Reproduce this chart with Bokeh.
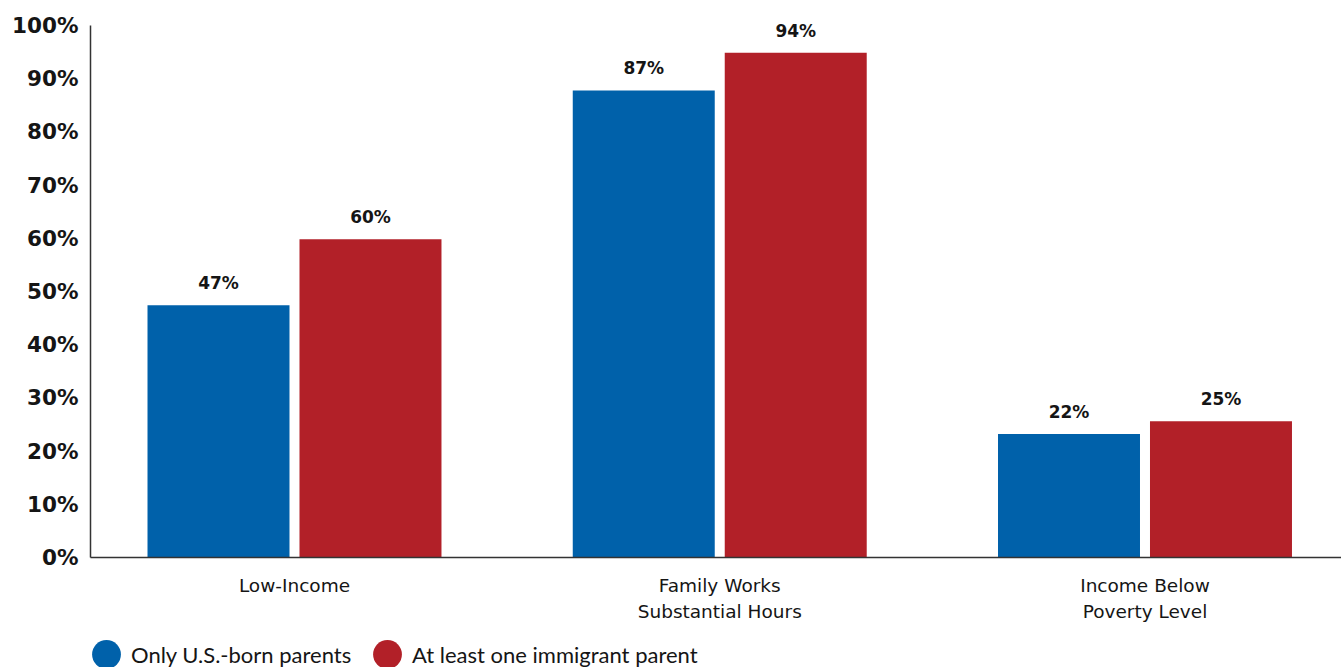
from bokeh.plotting import figure
from bokeh.layouts import column
from bokeh.models import (Range1d, FixedTicker, PrintfTickFormatter, ColumnDataSource,
                          Legend, LegendItem)
from bokeh.transform import dodge
from bokeh.core.properties import value
from bokeh.embed import file_html
from bokeh.resources import INLINE

# ---- data ----
categories = ["Low-Income", "Family Works\nSubstantial Hours", "Income Below\nPoverty Level"]
us_born = [47.4, 87.8, 23.2]
immigrant = [59.8, 94.9, 25.6]
us_born_labels = ["47%", "87%", "22%"]
immigrant_labels = ["60%", "94%", "25%"]
series_names = ["Only U.S.-born parents", "At least one immigrant parent"]
y_ticks = [0, 10, 20, 30, 40, 50, 60, 70, 80, 90, 100]

BLUE = "#0061AA"
RED = "#B22028"
INK = "#151515"

idx = list(range(len(categories)))
src_b = ColumnDataSource(dict(x=idx, v=us_born, t=us_born_labels))
src_r = ColumnDataSource(dict(x=idx, v=immigrant, t=immigrant_labels))

p = figure(width=1341, height=636, output_backend="svg", toolbar_location=None,
           x_range=Range1d(-0.4797, 2.4621), y_range=Range1d(0, 104.699),
           min_border_left=90, min_border_right=0, min_border_top=0, min_border_bottom=79)
p.outline_line_color = None
p.grid.visible = False
p.background_fill_color = "white"

OFF = 0.1787
W = 0.3339
p.vbar(x=dodge("x", -OFF, range=p.x_range), top="v", width=W, source=src_b,
       fill_color=BLUE, line_color=None)
p.vbar(x=dodge("x", OFF, range=p.x_range), top="v", width=W, source=src_r,
       fill_color=RED, line_color=None)

for src, off in ((src_b, -OFF), (src_r, OFF)):
    p.text(x=dodge("x", off, range=p.x_range), y="v", text="t", source=src,
           text_align="center", text_baseline="alphabetic", y_offset=-22,
           text_font=value("DejaVu Sans"), text_font_style="bold",
           text_font_size="17px", text_color=INK)

# axes
xa = p.xaxis[0]
xa.ticker = FixedTicker(ticks=idx)
xa.major_label_overrides = {i: c for i, c in zip(idx, categories)}
xa.major_tick_line_color = None
xa.minor_tick_line_color = None
xa.axis_line_color = "#333333"
xa.axis_line_width = 1.5
xa.major_label_standoff = 11
xa.major_label_text_font = "DejaVu Sans"
xa.major_label_text_font_size = "18.5px"
xa.major_label_text_color = INK
xa.major_label_text_line_height = 1.25

ya = p.yaxis[0]
ya.ticker = FixedTicker(ticks=y_ticks)
ya.formatter = PrintfTickFormatter(format="%d%%")
ya.bounds = (0, 100)
ya.major_tick_line_color = None
ya.minor_tick_line_color = None
ya.axis_line_color = "#333333"
ya.axis_line_width = 1.5
ya.major_label_standoff = 6
ya.major_label_text_font = "DejaVu Sans"
ya.major_label_text_font_style = "bold"
ya.major_label_text_font_size = "21.5px"
ya.major_label_text_color = INK

# legend strip below the chart (the series glyphs sit outside its ranges, only the legend shows)
lf = figure(width=1341, height=31, output_backend="svg", toolbar_location=None,
            x_range=Range1d(0, 1), y_range=Range1d(0, 1),
            x_axis_location=None, y_axis_location=None,
            min_border_left=90, min_border_right=0, min_border_top=0, min_border_bottom=0)
lf.outline_line_color = None
lf.grid.visible = False

dot_b = lf.ellipse(x="x", y="v", width=29, height=29, width_units="screen",
                   height_units="screen", source=src_b, fill_color=BLUE, line_color=None)
dot_r = lf.ellipse(x="x", y="v", width=29, height=29, width_units="screen",
                   height_units="screen", source=src_r, fill_color=RED, line_color=None)
for dot, name, loc in ((dot_b, series_names[0], (-2, -5)), (dot_r, series_names[1], (279, -5))):
    lg = Legend(items=[LegendItem(label=name, renderers=[dot])], location=loc,
                orientation="horizontal", glyph_width=36, glyph_height=36,
                label_standoff=7, padding=0, margin=0, spacing=0,
                border_line_color=None, background_fill_alpha=0,
                label_text_font="Lato", label_text_font_size="22px",
                label_text_color=INK)
    lf.add_layout(lg, "center")

layout = column(p, lf, spacing=0)
open("out.html", "w").write(file_html(layout, INLINE))
